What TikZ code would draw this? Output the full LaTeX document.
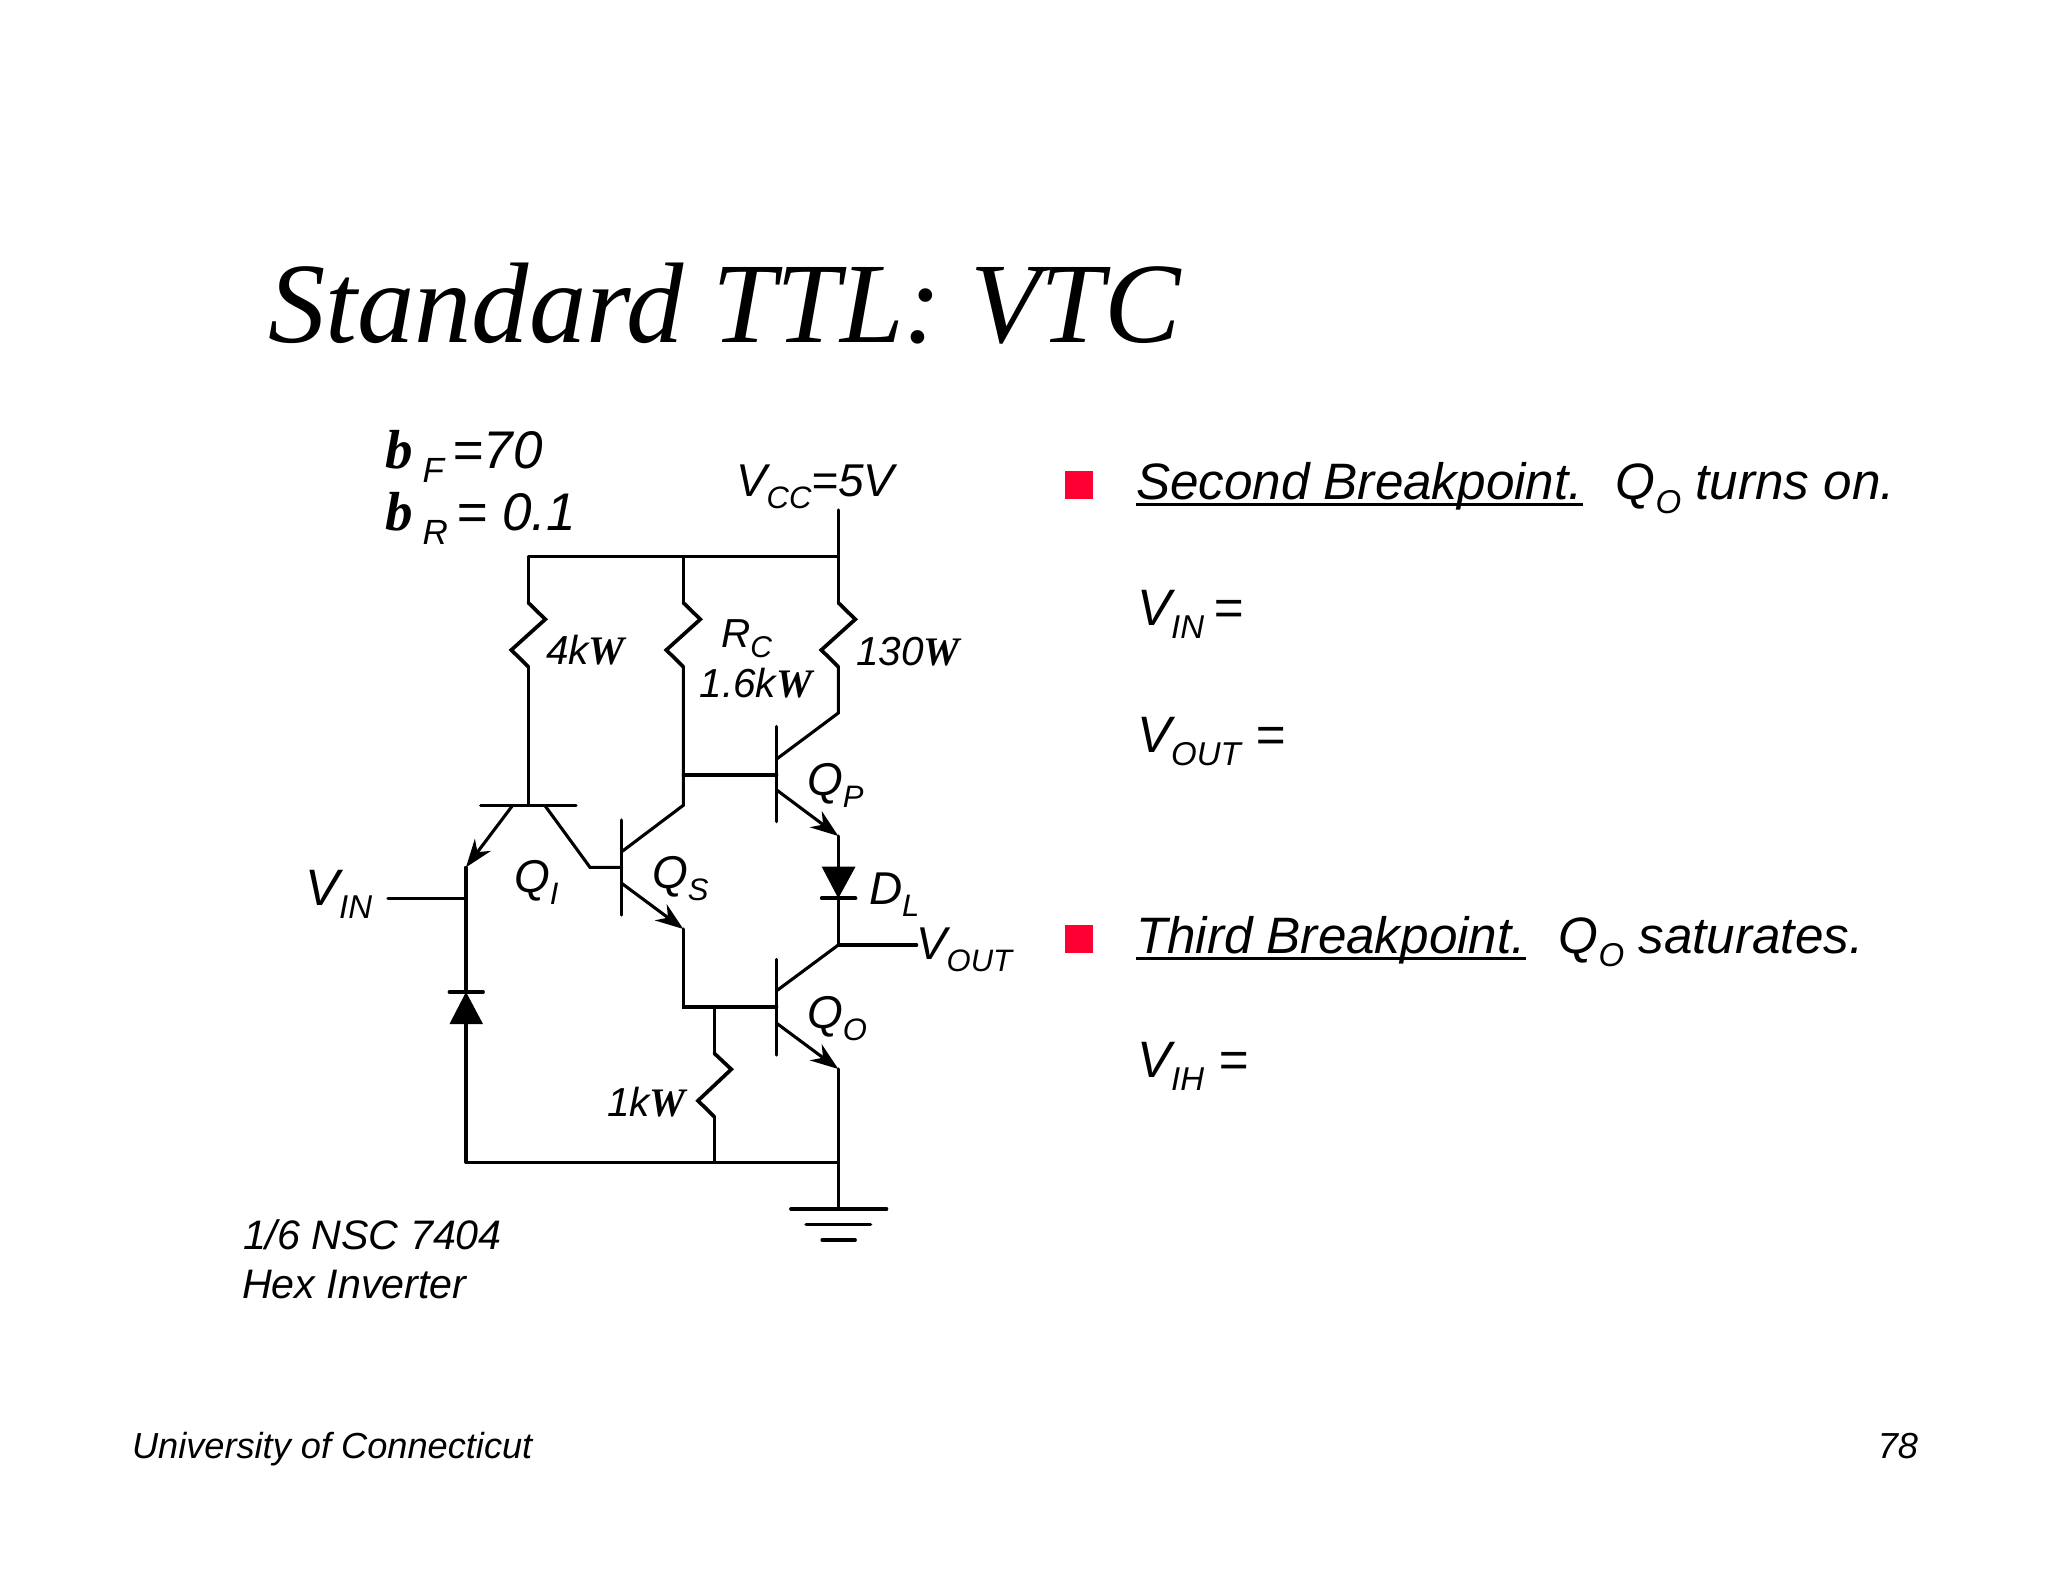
\documentclass[tikz,border=0pt]{standalone}
\usepackage{fontspec}
\setmainfont{Liberation Sans}
\newfontfamily\serifbi{Liberation Serif}
\usetikzlibrary{arrows.meta}
\definecolor{bulletred}{HTML}{FF0033}
\newcommand{\lowtext}[2][31]{\raisebox{-.27em}{\fontsize{#1}{#1}\selectfont #2}}
\newcommand{\ohmW}{{\serifbi\bfseries\itshape W}}
\newcommand{\betab}{{\fontsize{55}{55}\selectfont\serifbi\bfseries\itshape b}}
\newsavebox{\ulbox}
\newcommand{\ultext}[1]{\sbox\ulbox{#1}\rlap{\rule[-6.5pt]{\wd\ulbox}{3pt}}\usebox\ulbox}

\begin{document}
\begin{tikzpicture}[x=1pt,y=-1pt,
    wire/.style={line width=3.1pt,line cap=round,line join=miter},
    zigzag/.style={wire,line width=3.7pt},
    diodebar/.style={wire,line width=3.8pt},
    emitter/.style={wire,-{Stealth[length=28pt,width=20pt,inset=9pt]}},
    lbl/.style={anchor=base west,inner sep=0pt,outer sep=0pt,font=\fontsize{46}{46}\selectfont\itshape},
    biglbl/.style={lbl,font=\fontsize{51.2}{51.2}\selectfont\itshape},
    betalbl/.style={lbl,font=\fontsize{53}{53}\selectfont\itshape},
    smalllbl/.style={lbl,font=\fontsize{40.5}{40.5}\selectfont\itshape},
    notelbl/.style={lbl,font=\fontsize{41.2}{41.2}\selectfont\itshape},
    footlbl/.style={lbl,font=\fontsize{36.2}{36.2}\selectfont\itshape},
    bullet/.style={fill=bulletred,minimum size=28pt,inner sep=0pt}]
  \useasboundingbox[fill=white] (0,0) rectangle (2048,1582);

  % Title
  \node[anchor=base west,inner sep=0pt] (title) at (268,342) {\fontsize{114.6}{114.6}\selectfont\serifbi\itshape Standard TTL: VTC};

  % Junctions
  \coordinate (vcctop) at (838.3,510);
  \coordinate (railL) at (528.3,556.7);
  \coordinate (railM) at (683.3,556.7);
  \coordinate (railR) at (838.3,556.7);
  \coordinate (gndL) at (466,1162.3);
  \coordinate (gndM) at (714.3,1162.3);
  \coordinate (gndR) at (838.3,1162.3);
  \coordinate (gnd) at (838.3,1209);

  % Supply rail and ground
  \draw[wire] (railL) -- (railR);
  \draw[wire] (vcctop) -- (railR);
  \draw[wire] (gndL) -- (gndR) -- (gnd);
  \draw[wire] (790.7,1209) -- (886.7,1209);
  \draw[wire] (806,1224.3) -- (870.7,1224.3);
  \draw[wire] (822,1240) -- (855.3,1240);

  % Upper resistors
  \foreach \name/\x in {rfour/528.3,rc/683.3,rhigh/838.3} {
    \coordinate (\name top) at (\x,602.7);
    \coordinate (\name bot) at (\x,666.7);
    \draw[zigzag] (\name top) -- ++(17,16.6) -- ++(-34,30.7) -- (\name bot);
  }
  \draw[wire] (railL) -- (rfourtop);
  \draw[wire] (railM) -- (rctop);
  \draw[wire] (railR) -- (rhightop);

  % QI
  \coordinate (qibase) at (528.3,805.3);
  \coordinate (qiemit) at (466,867.3);
  \coordinate (qicoll) at (590,867.3);
  \draw[wire] (480.7,805.3) -- (576,805.3);
  \draw[wire] (rfourbot) -- (qibase);
  \draw[emitter] (512.7,805.3) -- (qiemit);
  \draw[wire] (544.7,805.3) -- (qicoll) -- (621.7,867.3);

  % QS
  \coordinate (qsout) at (683.3,929);
  \draw[wire] (621.7,820) -- (621.7,915);
  \draw[wire] (rcbot) -- (683.3,805.3) -- (621.7,851.7);
  \draw[emitter] (621.7,883.3) -- (qsout);

  % QP
  \coordinate (qpout) at (838.3,836);
  \draw[wire] (776.7,726.5) -- (776.7,821.7);
  \draw[wire] (rhighbot) -- (838.3,713) -- (776.7,759);
  \draw[wire] (683.3,775) -- (776.7,775);
  \draw[emitter] (776.7,790) -- (qpout);

  % DL
  \coordinate (dltop) at (838.3,866.7);
  \coordinate (dlbot) at (838.3,898.3);
  \coordinate (vout) at (838.3,945);
  \draw[wire] (qpout) -- (dltop);
  \fill (821.7,866.7) -- (855.5,866.7) -- (dlbot) -- cycle;
  \draw[diodebar] (821.7,898.3) -- (855.5,898.3);
  \draw[wire] (dlbot) -- (vout);
  \draw[wire] (vout) -- (916.7,945);

  % QO
  \coordinate (qobase) at (714.3,1007);
  \draw[wire] (qsout) -- (683.3,1007) -- (776.7,1007);
  \draw[wire] (776.7,959.3) -- (776.7,1055);
  \draw[wire] (vout) -- (776.7,990.7);
  \draw[emitter] (776.7,1023.3) -- (838.3,1069);
  \draw[wire] (838.3,1069) -- (gndR);

  % 1k resistor
  \coordinate (ronetop) at (714.3,1053.3);
  \coordinate (ronebot) at (714.3,1116.7);
  \draw[wire] (qobase) -- (ronetop);
  \draw[zigzag] (ronetop) -- ++(17,16) -- ++(-33.3,31.4) -- (ronebot);
  \draw[wire] (ronebot) -- (gndM);

  % Input clamp diode
  \coordinate (dintop) at (466,992);
  \coordinate (dinbot) at (466,1024);
  \draw[wire] (qiemit) -- (dintop);
  \draw[wire] (388,898.3) -- (466,898.3);
  \draw[diodebar] (449.5,992) -- (483,992);
  \fill (449.5,1024) -- (483,1024) -- (dintop) -- cycle;
  \draw[wire] (dinbot) -- (gndL);

  % Circuit labels
  \node[betalbl] (bf) at (385,468) {\betab\hspace{10pt}\lowtext[35]{F}\,=70};
  \node[betalbl] (br) at (385,530) {\betab\hspace{10pt}\lowtext[35]{R}\,= 0.1};
  \node[lbl] (vcc) at (736,496) {V\lowtext{CC}=5V};
  \node[smalllbl] (lfour) at (546,664) {4k\ohmW};
  \node[smalllbl] (lrc) at (721,647) {R\lowtext[30]{C}};
  \node[smalllbl] (lsix) at (699.5,697) {1.6k\ohmW};
  \node[smalllbl] (lhigh) at (856,665) {130\ohmW};
  \node[smalllbl] (lone) at (607,1116) {1k\ohmW};
  \node[lbl] (qp) at (807,795) {Q\lowtext{P}};
  \node[lbl] (qi) at (514,892) {Q\lowtext{I}};
  \node[lbl] (qs) at (652,888) {Q\lowtext{S}};
  \node[lbl] (qo) at (807,1028) {Q\lowtext{O}};
  \node[lbl] (dl) at (869,904) {D\lowtext{L}};
  \node[biglbl] (vin) at (305,905) {V\lowtext[33]{IN}};
  \node[lbl] (voutl) at (916,959) {V\lowtext{OUT}};
  \node[notelbl] (partone) at (243,1249) {1/6 NSC 7404};
  \node[notelbl] (parttwo) at (242,1298) {Hex Inverter};

  % Notes
  \node[bullet] (bone) at (1078.5,485) {};
  \node[bullet] (btwo) at (1078.5,938.5) {};
  \node[biglbl] (second) at (1136,499.5) {\ultext{Second Breakpoint.}\hspace{33pt}Q\lowtext[33]{O} turns on.};
  \node[biglbl] (vinq) at (1137,625) {V\lowtext[33]{IN}\hspace{9pt}=};
  \node[biglbl] (voutq) at (1137,752) {V\lowtext[33]{OUT} =};
  \node[biglbl] (third) at (1136,953) {\ultext{Third Breakpoint.}\hspace{33pt}Q\lowtext[33]{O} saturates.};
  \node[biglbl] (vihq) at (1137,1077) {V\lowtext[33]{IH} =};

  % Footer
  \node[footlbl] (uni) at (132,1458) {University of Connecticut};
  \node[footlbl,anchor=base east] (page) at (1918,1458) {78};
\end{tikzpicture}
\end{document}
